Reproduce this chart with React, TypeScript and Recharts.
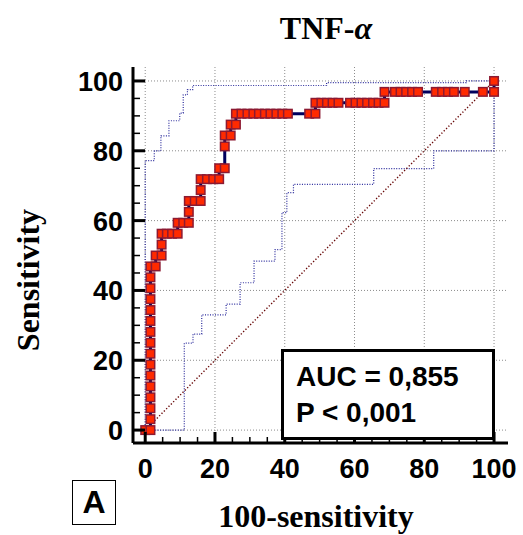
import { ScatterChart, Scatter, XAxis, YAxis, CartesianGrid } from "recharts";

// ROC curve: 100-specificity (x) vs sensitivity (y)
const rocFpr = [
  0, 1.5, 1.5, 1.5, 1.5, 1.5, 1.5, 1.5, 1.5, 1.5, 1.5, 1.5, 1.5, 1.5, 1.5, 1.5, 1.5,
  3.0, 3.0, 4.7, 4.7, 4.7, 6.2, 7.7, 9.3, 9.3, 10.9, 12.5, 12.5, 12.5, 14.2, 15.9,
  15.9, 15.9, 17.7, 19.5, 21.2, 21.2, 22.8, 22.8, 22.8, 24.5, 24.5, 26.0, 26.0,
  27.6, 29.3, 31.0, 32.6, 34.3, 35.9, 37.6, 39.3, 40.9, 47.0, 48.8, 48.8,
  50.5, 52.1, 53.7, 55.4, 58.7, 60.3, 62.0, 63.6, 65.3, 66.9, 68.6, 68.6,
  71.6, 73.2, 74.8, 76.5, 78.2, 83.3, 85.1, 86.8, 88.5, 91.6, 96.8, 100, 100,
];
const rocSens = [
  0, 0, 3.125, 6.25, 9.375, 12.5, 15.625, 18.75, 21.875, 25, 28.125, 31.25, 34.375,
  37.5, 40.625, 43.75, 46.875, 46.875, 50, 50, 53.125, 56.25, 56.25, 56.25, 56.25,
  59.375, 59.375, 59.375, 62.5, 65.625, 65.625, 65.625, 68.75, 71.875, 71.875,
  71.875, 71.875, 75, 75, 81.25, 84.375, 84.375, 87.5, 87.5, 90.625, 90.625,
  90.625, 90.625, 90.625, 90.625, 90.625, 90.625, 90.625, 90.625, 90.625, 90.625,
  93.75, 93.75, 93.75, 93.75, 93.75, 93.75, 93.75, 93.75, 93.75, 93.75, 93.75,
  93.75, 96.875, 96.875, 96.875, 96.875, 96.875, 96.875, 96.875, 96.875, 96.875,
  96.875, 96.875, 96.875, 96.875, 100,
];

// 95% confidence bounds
const upperFpr = [0, 0, 2.6, 2.6, 4.5, 4.5, 6.8, 6.8, 9.9, 9.9, 10.9, 10.9, 12.1, 12.1, 13.6, 13.6, 52, 52, 92, 92, 100];
const upperSens = [0, 77.2, 77.2, 80.0, 80.0, 84.3, 84.3, 88.6, 88.6, 90.8, 90.8, 96.0, 96.0, 97.5, 97.5, 98.7, 98.7, 99.5, 99.5, 100, 100];
const lowerFpr = [0, 11.2, 11.2, 13.7, 13.7, 16.2, 16.2, 23.2, 23.2, 27.2, 27.2, 31.2, 31.2, 37.2, 37.2, 39.2, 39.2, 40.6, 40.6, 42.5, 42.5, 65.5, 65.5, 82.7, 82.7, 100, 100];
const lowerSens = [0, 0, 24.9, 24.9, 27.5, 27.5, 33.0, 33.0, 36.1, 36.1, 42.2, 42.2, 48.4, 48.4, 51.7, 51.7, 62.3, 62.3, 68.0, 68.0, 70.4, 70.4, 74.9, 74.9, 80.0, 80.0, 100];

const diagFpr = [0, 100];
const diagSens = [0, 100];

const majorTicks = [0, 20, 40, 60, 80, 100];
const axisTicks = [0, 5, 10, 15, 20, 25, 30, 35, 40, 45, 50, 55, 60, 65, 70, 75, 80, 85, 90, 95, 100];

const toPoints = (xs: number[], ys: number[]) => xs.map((x, i) => ({ x, y: ys[i] }));

const tickFont = "'Liberation Sans', Arial, sans-serif";
const serif = "'Liberation Serif', 'Times New Roman', serif";

function XTick(props: any) {
  const { x, y, payload } = props;
  const major = payload.value % 20 === 0;
  return (
    <g>
      <line x1={x} x2={x} y1={y} y2={y - (major ? 11 : 6)} stroke="#000" strokeWidth={major ? 3 : 1.5} />
      {major && (
        <text x={x} y={y + 35} textAnchor="middle" fontFamily={tickFont} fontWeight="bold" fontSize={27} fill="#000">
          {payload.value}
        </text>
      )}
    </g>
  );
}

function YTick(props: any) {
  const { x, y, payload } = props;
  const major = payload.value % 20 === 0;
  return (
    <g>
      <line x1={x} x2={x + (major ? 12 : 7)} y1={y} y2={y} stroke="#000" strokeWidth={major ? 3 : 1.5} />
      {major && (
        <text x={x - 10} y={y + 10} textAnchor="end" fontFamily={tickFont} fontWeight="bold" fontSize={27} fill="#000">
          {payload.value}
        </text>
      )}
    </g>
  );
}

const Square = (p: any) => (
  <rect x={p.cx - 4.25} y={p.cy - 4.25} width={8.5} height={8.5} fill="#ff2a00" stroke="#8c1a32" strokeWidth={1.5} />
);
const NoDot = () => <g />;

export default function App() {
  return (
    <div style={{ position: "absolute", left: 0, top: 0, width: 523, height: 535, background: "#fff" }}>
      <ScatterChart width={523} height={535} margin={{ top: 67, right: 15, bottom: 0, left: 0 }}>
        <CartesianGrid
          verticalValues={majorTicks}
          horizontalValues={majorTicks}
          stroke="#8c8c8c"
          strokeDasharray="1 2"
        />
        <XAxis
          type="number"
          dataKey="x"
          domain={[-3.5, 104]}
          allowDataOverflow
          ticks={axisTicks}
          interval={0}
          tickSize={0}
          tickMargin={0}
          tickLine={false}
          tick={<XTick />}
          height={92}
          axisLine={{ stroke: "#000", strokeWidth: 3 }}
        />
        <YAxis
          type="number"
          dataKey="y"
          domain={[-3.7, 104]}
          allowDataOverflow
          ticks={axisTicks}
          interval={0}
          tickSize={0}
          tickMargin={0}
          tickLine={false}
          tick={<YTick />}
          width={133}
          axisLine={{ stroke: "#000", strokeWidth: 3 }}
        />
        <Scatter
          data={toPoints(upperFpr, upperSens)}
          line={{ stroke: "#2b2b9c", strokeWidth: 1.2, strokeDasharray: "1 1.5" }}
          shape={NoDot}
          isAnimationActive={false}
        />
        <Scatter
          data={toPoints(lowerFpr, lowerSens)}
          line={{ stroke: "#2b2b9c", strokeWidth: 1.2, strokeDasharray: "1 1.5" }}
          shape={NoDot}
          isAnimationActive={false}
        />
        <Scatter
          data={toPoints(diagFpr, diagSens)}
          line={{ stroke: "#6a0a0a", strokeWidth: 1.4, strokeDasharray: "1.3 2" }}
          shape={NoDot}
          isAnimationActive={false}
        />
        <Scatter
          data={toPoints(rocFpr, rocSens)}
          line={{ stroke: "#00005e", strokeWidth: 3 }}
          shape={Square}
          isAnimationActive={false}
        />
      </ScatterChart>

      <div
        style={{
          position: "absolute", left: 226, top: 12, width: 200, textAlign: "center",
          fontFamily: serif, fontWeight: "bold", fontSize: 32, lineHeight: "32px",
        }}
      >
        TNF-<span style={{ fontStyle: "italic" }}>α</span>
      </div>

      <div
        style={{
          position: "absolute", left: 216, top: 500, width: 200, textAlign: "center",
          fontFamily: serif, fontWeight: "bold", fontSize: 32, lineHeight: "32px",
        }}
      >
        100-sensitivity
      </div>

      <div
        style={{
          position: "absolute", left: 28 - 100, top: 280 - 16, width: 200, height: 32, textAlign: "center",
          fontFamily: serif, fontWeight: "bold", fontSize: 32, lineHeight: "32px",
          transform: "rotate(-90deg)",
        }}
      >
        Sensitivity
      </div>

      <div
        style={{
          position: "absolute", left: 281, top: 349, width: 214, height: 91, boxSizing: "border-box",
          border: "3px solid #000", background: "#fff", paddingLeft: 12, paddingTop: 7,
          fontFamily: tickFont, fontWeight: "bold", fontSize: 28, lineHeight: "36px",
        }}
      >
        <div>AUC = 0,855</div>
        <div>P &lt; 0,001</div>
      </div>

      <div
        style={{
          position: "absolute", left: 72, top: 480, width: 44, height: 45, boxSizing: "border-box",
          border: "1.5px solid #000", textAlign: "center",
          fontFamily: tickFont, fontWeight: "bold", fontSize: 32, lineHeight: "42px",
        }}
      >
        A
      </div>
    </div>
  );
}
